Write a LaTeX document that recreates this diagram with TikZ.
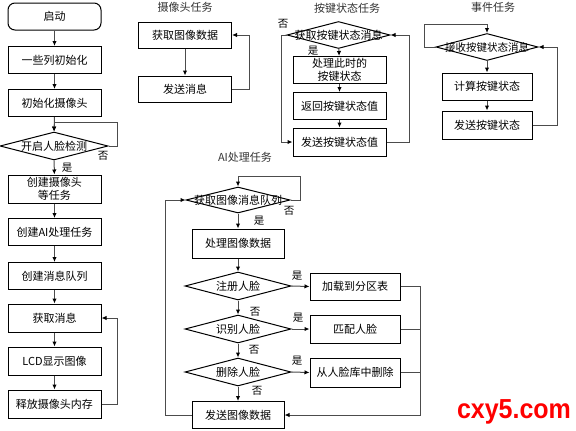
\documentclass[tikz,border=0pt]{standalone}
\usepackage{fontspec}
\setmainfont{Noto Sans CJK SC}
\newfontfamily\wmfont{Liberation Sans}
\usepackage{tikz}
\usetikzlibrary{positioning,arrows.meta,shapes.geometric}

\newcommand{\dtxt}[1]{\makebox[0pt]{#1}}

\begin{document}
\begin{tikzpicture}[
    x=1pt, y=-1pt,
    font=\fontsize{11}{13}\selectfont,
    box/.style={draw, line width=1pt, align=center, minimum width=93pt, minimum height=27pt, inner sep=0pt},
    dec/.style={draw, line width=1pt, diamond, minimum width=104pt, minimum height=27pt, inner sep=0pt},
    title/.style={inner sep=0pt, text=black!80},
    lbl/.style={inner sep=0pt, font=\fontsize{10.5}{12}\selectfont},
    line/.style={draw=black!70, line width=1pt},
    arrow/.style={-{Latex[length=5pt,width=4.5pt,color=black]}, draw=black!70, line width=1pt}
]
\useasboundingbox (0,0) rectangle (576,431);

% main flow
\node[box, rounded corners=7pt] (start) at (54.5,16.5) {启动};
\node[box] (init) at (54.5,60) {一些列初始化};
\node[box] (initcam) at (54.5,103) {初始化摄像头};
\node[dec, minimum width=108pt, minimum height=28pt] (face) at (54,146) {\dtxt{开启人脸检测}};
\node[box, minimum height=28pt] (mktask) at (54.5,189) {创建摄像头\\等任务};
\node[box] (mkai) at (54.5,232) {创建AI处理任务};
\node[box] (mkq) at (54.5,276) {创建消息队列};
\node[box, minimum height=28pt] (getmsg) at (54.5,318) {获取消息};
\node[box, minimum height=28pt] (lcd) at (54.5,361) {LCD显示图像};
\node[box, minimum height=28pt] (free) at (54.5,404) {释放摄像头内存};
\node[lbl] (fno) at (103,156) {否};
\node[lbl] (fyes) at (67,168) {是};

\draw[arrow] (start) -- (init);
\draw[arrow] (init) -- (initcam);
\draw[arrow] (initcam) -- (face);
\draw[arrow] (face.east) -- ++(9,0) |- ([yshift=9pt]face.north) -- (face.north);
\draw[arrow] (face) -- (mktask);
\draw[arrow] (mktask) -- (mkai);
\draw[arrow] (mkai) -- (mkq);
\draw[arrow] (mkq) -- (getmsg);
\draw[arrow] (getmsg) -- (lcd);
\draw[arrow] (lcd) -- (free);
\draw[arrow] (free.east) -- ++(16,0) |- (getmsg.east);

% camera task
\node[title] (camtitle) at (185,7) {摄像头任务};
\node[box, minimum height=26pt] (getimg) at (185,35) {获取图像数据};
\node[box, minimum height=26pt] (sendmsg) at (185,89) {发送消息};
\draw[arrow] (getimg) -- (sendmsg);
\draw[arrow] (sendmsg.east) -- ++(17,0) |- (getimg.east);

% key task
\node[title] (keytitle) at (347,8) {按键状态任务};
\node[dec, minimum width=103pt] (keymsg) at (338.5,35) {\dtxt{获取按键状态消息}};
\node[box] (keyproc) at (339.5,70) {处理此时的\\按键状态};
\node[box] (keyret) at (339.5,106) {返回按键状态值};
\node[box, minimum height=28pt] (keysend) at (339.5,142) {发送按键状态值};
\node[lbl] (kno) at (283,24) {否};
\node[lbl] (kyes) at (313,51) {是};
\draw[arrow] (keymsg) -- (keyproc);
\draw[arrow] (keyproc) -- (keyret);
\draw[arrow] (keyret) -- (keysend);
\draw[arrow] (keymsg.west) -- ++(-5,0) |- (keysend.west);
\draw[arrow] (keysend.east) -- ++(23,0) |- (keymsg.east);

% event task
\node[title] (evtitle) at (493,7) {事件任务};
\node[dec, minimum width=102pt] (evmsg) at (487,47) {\dtxt{\fontsize{10.5}{12}\selectfont 接收按键状态消息}};
\node[box, minimum width=90pt] (evcalc) at (487,86.5) {计算按键状态};
\node[box, minimum width=90pt, minimum height=28pt] (evsend) at (487,125) {发送按键状态};
\draw[arrow] (evmsg.west) -- ++(-11,0) |- ([yshift=8.5pt]evmsg.north) -- (evmsg.north);
\draw[arrow] (evmsg) -- (evcalc);
\draw[arrow] (evcalc) -- (evsend);
\draw[arrow] (evsend.east) -- ++(25,0) |- (evmsg.east);

% AI task
\node[title] (aititle) at (245,157) {AI处理任务};
\node[dec, minimum height=26pt] (aimsg) at (238,200) {\dtxt{获取图像消息队列}};
\node[box, minimum width=92pt, minimum height=29pt] (aiproc) at (238,243.5) {处理图像数据};
\node[dec, minimum width=106pt, minimum height=28pt] (reg) at (238,286) {\dtxt{注册人脸}};
\node[dec, minimum width=106pt, minimum height=28pt] (rec) at (238,329) {\dtxt{识别人脸}};
\node[dec, minimum width=106pt, minimum height=28pt] (del) at (238,372) {\dtxt{删除人脸}};
\node[box, minimum width=92pt] (aisend) at (238,415) {发送图像数据};
\node[box, minimum width=90pt] (load) at (355,286.5) {加载到分区表};
\node[box, minimum width=90pt, minimum height=28pt] (match) at (355,329) {匹配人脸};
\node[box, minimum width=90pt, minimum height=29pt] (remove) at (355,372.5) {从人脸库中删除};
\coordinate (bus) at (420,415);

\node[lbl] (ano) at (289,211) {否};
\node[lbl] (ayes) at (259,221) {是};
\node[lbl] (ryes) at (297,276) {是};
\node[lbl] (cyes) at (298,318) {是};
\node[lbl] (dyes) at (297,361) {是};
\node[lbl] (rno) at (255,312) {否};
\node[lbl] (cno) at (254,350) {否};
\node[lbl] (dno) at (257,391) {否};

\draw[arrow] (aimsg.east) -- ++(10,0) |- ([yshift=10pt]aimsg.north) -- (aimsg.north);
\draw[arrow] (aimsg) -- (aiproc);
\draw[arrow] (aiproc) -- (reg);
\draw[arrow] (reg) -- (rec);
\draw[arrow] (rec) -- (del);
\draw[arrow] (del) -- (aisend);
\draw[arrow] (reg.east) -- (load.west);
\draw[arrow] (rec.east) -- (match.west);
\draw[arrow] (del.east) -- (remove.west);
\draw[line] (match.east) -- (match.east -| bus);
\draw[line] (remove.east) -- (remove.east -| bus);
\draw[arrow] (load.east) -- (load.east -| bus) -- (bus) -- (aisend.east);
\draw[arrow] (aisend.west) -- ++(-26,0) |- (aimsg.west);

% watermark
\node[inner sep=0pt, text=red, font=\wmfont\bfseries\fontsize{25}{25}\selectfont, yscale=1.1] (mark) at (514,412) {cxy5.com};
\end{tikzpicture}
\end{document}
